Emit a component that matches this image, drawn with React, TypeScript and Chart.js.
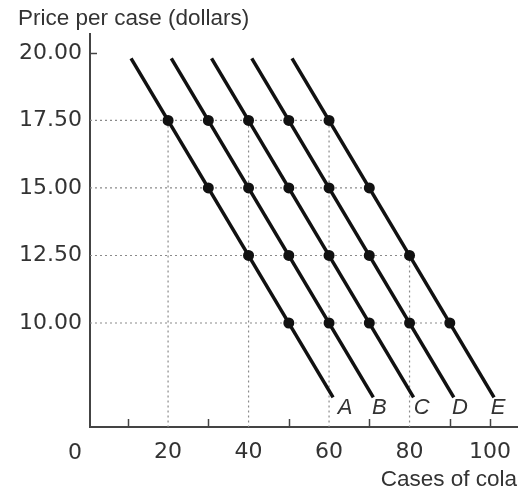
import React, { useEffect, useRef } from "react";
import { Chart, registerables } from "chart.js";

Chart.register(...registerables);

// ---- data ----
const curveNames = ["A", "B", "C", "D", "E"];
const priceLevels = [17.5, 15, 12.5, 10];
const qtyA = [20, 30, 40, 50];
const qtyB = [30, 40, 50, 60];
const qtyC = [40, 50, 60, 70];
const qtyD = [50, 60, 70, 80];
const qtyE = [60, 70, 80, 90];
const curveQty = [qtyA, qtyB, qtyC, qtyD, qtyE];
// straight-line extents of each curve
const curveTopP = 19.8;
const curveBottomP = 7.25;
const curveTopQ = [10.8, 20.8, 30.8, 40.8, 50.8];
const curveBottomQ = [61, 71, 81, 91, 101];
// curve labels
const labelQ = [64, 72.5, 83, 92.5, 102];
const labelP = 6.85;
// dotted guides
const hGuideP = [17.5, 15, 12.5, 10];
const hGuideEndQ = [60, 70, 80, 90];
const vGuideQ = [20, 40, 60, 80];
const vGuideTopP = [17.5, 17.5, 17.5, 12.5];
// axes
const xTicks = [0, 20, 40, 60, 80, 100];
const yTicks = [10, 12.5, 15, 17.5, 20];
const xMinorTicks = [10, 30, 50, 70, 90, 100];
const yMinorTicks = [20];
const xMin = 0.6;
const xMax = 106.7;
const yMin = 6.15;
const yMax = 20.7;

const FONT = "'Liberation Sans', Arial, sans-serif";
const NUMFONT = "'DejaVu Sans', sans-serif";
const TEXT = "#333333";
const INK = "#111111";
const GUIDE = "#8a8a8a";

export default function App() {
  const ref = useRef<HTMLCanvasElement | null>(null);

  useEffect(() => {
    document.body.style.margin = "0";
    const canvas = ref.current;
    if (!canvas) return;

    const datasets: any[] = [];

    // dots
    datasets.push({
      type: "scatter",
      data: curveQty.flatMap((qs) => qs.map((q, i) => ({ x: q, y: priceLevels[i] }))),
      pointRadius: 5.5,
      pointBackgroundColor: INK,
      pointBorderColor: INK,
      pointBorderWidth: 0,
      showLine: false,
      order: 0,
    });

    // curves
    curveQty.forEach((qs, k) => {
      datasets.push({
        type: "scatter",
        data: [
          { x: curveTopQ[k], y: curveTopP },
          { x: curveBottomQ[k], y: curveBottomP },
        ],
        showLine: true,
        borderColor: INK,
        borderWidth: 3.5,
        pointRadius: 0,
        order: 1,
      });
    });

    // horizontal guides
    hGuideP.forEach((p, i) => {
      datasets.push({
        type: "scatter",
        data: [
          { x: xMin, y: p },
          { x: hGuideEndQ[i], y: p },
        ],
        showLine: true,
        borderColor: GUIDE,
        borderWidth: 1.2,
        borderDash: [2, 3],
        pointRadius: 0,
        order: 2,
      });
    });

    // vertical guides
    vGuideQ.forEach((q, i) => {
      datasets.push({
        type: "scatter",
        data: [
          { x: q, y: vGuideTopP[i] },
          { x: q, y: yMin },
        ],
        showLine: true,
        borderColor: GUIDE,
        borderWidth: 1.2,
        borderDash: [2, 3],
        pointRadius: 0,
        order: 2,
      });
    });

    const extras = {
      id: "extras",
      afterDraw(chart: any) {
        const { ctx, chartArea } = chart;
        const xs = chart.scales.x;
        const ys = chart.scales.y;
        ctx.save();
        // inward minor ticks
        ctx.strokeStyle = "#444";
        ctx.lineWidth = 1.5;
        xMinorTicks.forEach((v) => {
          const px = Math.round(xs.getPixelForValue(v)) + 0.5;
          ctx.beginPath();
          ctx.moveTo(px, chartArea.bottom);
          ctx.lineTo(px, chartArea.bottom - 8);
          ctx.stroke();
        });
        yMinorTicks.forEach((v) => {
          const py = Math.round(ys.getPixelForValue(v)) + 0.5;
          ctx.beginPath();
          ctx.moveTo(chartArea.left, py);
          ctx.lineTo(chartArea.left + 7, py);
          ctx.stroke();
        });
        // curve labels
        ctx.fillStyle = TEXT;
        ctx.font = `italic 22px ${FONT}`;
        ctx.textAlign = "center";
        ctx.textBaseline = "middle";
        curveNames.forEach((n, i) => {
          ctx.fillText(n, xs.getPixelForValue(labelQ[i]), ys.getPixelForValue(labelP));
        });
        // origin label
        ctx.font = `22px ${NUMFONT}`;
        ctx.fillText("0", chartArea.left - 15, chartArea.bottom + 26);
        ctx.restore();
      },
    };

    const chart = new Chart(canvas, {
      type: "scatter",
      data: { datasets },
      options: {
        animation: false,
        responsive: false,
        layout: { padding: { left: 18, right: 7, top: 0, bottom: 0 } },
        plugins: {
          legend: { display: false },
          tooltip: { enabled: false },
          title: {
            display: true,
            text: "Price per case (dollars)",
            align: "start",
            color: TEXT,
            font: { family: FONT, size: 22.5, weight: "normal" },
            padding: { top: 5, bottom: 2 },
          },
        },
        scales: {
          x: {
            type: "linear",
            min: xMin,
            max: xMax,
            afterBuildTicks(scale: any) {
              scale.ticks = xTicks.map((v) => ({ value: v }));
            },
            afterFit(scale: any) {
              scale.height = 68;
            },
            grid: { display: false, drawTicks: false },
            border: { display: true, color: "#444", width: 2 },
            ticks: {
              color: TEXT,
              font: { family: NUMFONT, size: 22 },
              padding: 12,
              maxRotation: 0,
              autoSkip: false,
              callback: (v: any) => (v === 0 ? "" : String(v)),
            },
            title: {
              display: true,
              text: "Cases of cola",
              align: "end",
              color: TEXT,
              font: { family: FONT, size: 22.5 },
              padding: { top: 0, bottom: 2 },
            },
          },
          y: {
            type: "linear",
            min: yMin,
            max: yMax,
            afterBuildTicks(scale: any) {
              scale.ticks = yTicks.map((v) => ({ value: v }));
            },
            afterFit(scale: any) {
              scale.width = 72;
            },
            grid: { display: false, drawTicks: false },
            border: { display: true, color: "#444", width: 2 },
            ticks: {
              color: TEXT,
              font: { family: NUMFONT, size: 22 },
              padding: 8,
              autoSkip: false,
              callback: (v: any) => Number(v).toFixed(2),
            },
          },
        },
      },
      plugins: [extras],
    } as any);

    return () => chart.destroy();
  }, []);

  return (
    <div style={{ position: "relative", width: 524, height: 495 }}>
      <canvas ref={ref} width={524} height={495} />
    </div>
  );
}
